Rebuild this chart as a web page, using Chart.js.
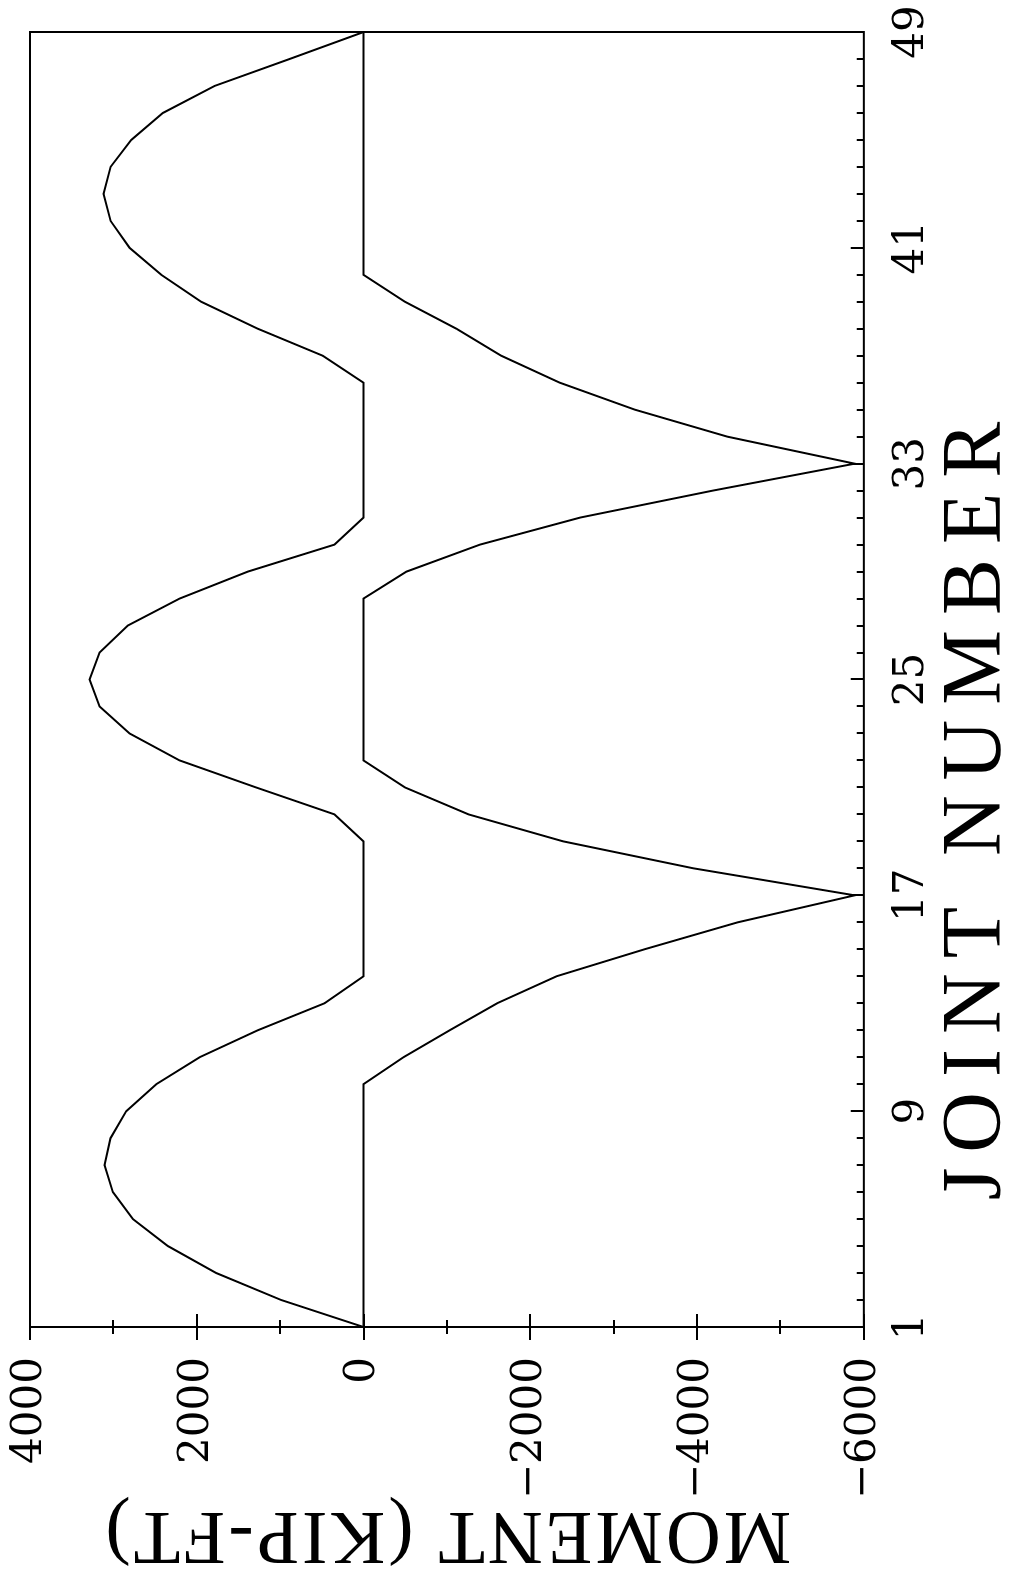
<!DOCTYPE html>
<html>
<head>
<meta charset="utf-8">
<script src="https://cdn.jsdelivr.net/npm/chart.js@4.4.1/dist/chart.umd.min.js"></script>
<style>
  html, body { margin: 0; padding: 0; background: #fff; overflow: hidden; }
  #wrap {
    position: absolute; left: 0; top: 0;
    width: 1575px; height: 1013px;
    transform-origin: 0 0;
    transform: translate(0, 1575px) rotate(-90deg);
  }
</style>
</head>
<body>
<div id="wrap"><canvas id="c" width="1575" height="1013"></canvas></div>
<script>
// Joint numbers (categories)
const joints = [1,2,3,4,5,6,7,8,9,10,11,12,13,14,15,16,17,18,19,20,21,22,23,24,25,
  26,27,28,29,30,31,32,33,34,35,36,37,38,39,40,41,42,43,44,45,46,47,48,49];

// Positive moment envelope (KIP-FT)
const positiveMoment = [0,987,1766,2346,2766,3006,3106,3034,2846,2486,1966,1267,468,0,
  0,0,0,0,0,
  348,1290,2206,2806,3165,3285,3165,2826,2206,1387,348,
  0,0,0,0,0,0,
  488,1267,1946,2426,2806,3034,3118,3034,2786,2406,1787,887,0];

// Negative moment envelope (KIP-FT)
const negativeMoment = [0,0,0,0,0,0,0,0,0,0,
  -480,-1034,-1603,-2314,-3370,-4489,-5890,-3958,-2396,-1259,-497,
  0,
  0,0,0,0,0,0,
  -516,-1397,-2595,-4187,-5890,-4365,-3255,-2355,-1652,-1115,-497,
  0,
  0,0,0,0,0,0,0,0,0];

// Tick labels
const jointTickLabels = [1, 9, 17, 25, 33, 41, 49];
const momentTickLabels = [4000, 2000, 0, -2000, -4000, -6000];

// Wide letter spacing of the plotter-style titles
const titleSpacing = { 'JOINT NUMBER': 15, 'MOMENT (KIP-FT)': 3 };

const letterSpacingPlugin = {
  id: 'letterSpacing',
  beforeDraw(chart) {
    const ctx = chart.ctx;
    if (ctx._lsPatched) return;
    const orig = ctx.fillText;
    ctx.fillText = function(text, x, y, maxWidth) {
      const sp = titleSpacing[text];
      const prev = this.letterSpacing;
      if (sp) this.letterSpacing = sp + 'px';
      if (maxWidth === undefined) orig.call(this, text, x, y);
      else orig.call(this, text, x, y, maxWidth);
      if (sp) this.letterSpacing = prev;
    };
    ctx._lsPatched = true;
  }
};

const frameTicks = {
  id: 'frameTicks',
  afterDraw(chart) {
    const {ctx, chartArea: a, scales} = chart;
    const x = scales.x, y = scales.y;
    ctx.save();
    ctx.strokeStyle = '#000';
    ctx.lineWidth = 2;
    ctx.strokeRect(a.left, a.top, a.right - a.left, a.bottom - a.top);
    ctx.beginPath();
    y.ticks.forEach(t => {
      const py = Math.round(y.getPixelForValue(t.value));
      const len = momentTickLabels.includes(t.value) ? 13 : 7;
      ctx.moveTo(a.left - len, py);
      ctx.lineTo(a.left + len, py);
    });
    x.ticks.forEach((t, i) => {
      const px = Math.round(x.getPixelForTick(i));
      const len = jointTickLabels.includes(joints[i]) ? 13 : 7;
      ctx.moveTo(px, a.bottom);
      ctx.lineTo(px, a.bottom - len);
    });
    ctx.stroke();
    ctx.restore();
  }
};

const tickFont = { family: "'DejaVu Serif', serif", size: 42, lineHeight: 1.2 };

new Chart(document.getElementById('c'), {
  type: 'line',
  data: {
    labels: joints,
    datasets: [
      { label: 'Positive', data: positiveMoment, borderColor: '#000', borderWidth: 2,
        pointRadius: 0, tension: 0, fill: false },
      { label: 'Negative', data: negativeMoment, borderColor: '#000', borderWidth: 2,
        pointRadius: 0, tension: 0, fill: false }
    ]
  },
  options: {
    responsive: false,
    animation: false,
    devicePixelRatio: 1,
    layout: { padding: { left: 0, right: 32, top: 30, bottom: 0 } },
    plugins: {
      legend: { display: false },
      tooltip: { enabled: false },
      title: {
        display: true,
        text: 'JOINT NUMBER',
        position: 'bottom',
        align: 'center',
        color: '#000',
        font: { family: "'Liberation Serif', serif", size: 84, weight: 'normal', lineHeight: 0.74 },
        padding: { top: 0, bottom: 4 }
      }
    },
    scales: {
      x: {
        type: 'category',
        offset: false,
        grid: { display: false, drawTicks: true, tickLength: 23 },
        border: { display: false },
        ticks: {
          autoSkip: false,
          maxRotation: 0,
          minRotation: 0,
          padding: 0,
          color: '#000',
          font: tickFont,
          callback: function(value, index) {
            const j = joints[index];
            return jointTickLabels.includes(j) ? String(j) : '';
          }
        },
        afterFit: s => { s.height = 83; }
      },
      y: {
        type: 'linear',
        min: -6000,
        max: 4000,
        grid: { display: false, drawTicks: true, tickLength: 30 },
        border: { display: false },
        ticks: {
          stepSize: 1000,
          padding: 0,
          color: '#000',
          font: tickFont,
          callback: function(v) {
            if (!momentTickLabels.includes(v)) return '';
            return v < 0 ? '\u2212' + Math.abs(v) : String(v);
          }
        },
        title: {
          display: true,
          text: 'MOMENT (KIP-FT)',
          color: '#000',
          font: { family: "'Liberation Serif', serif", size: 76, weight: 'normal', lineHeight: 1 },
          padding: { top: 4, bottom: 0 }
        },
        afterFit: s => { s.width = 248; }
      }
    }
  },
  plugins: [letterSpacingPlugin, frameTicks]
});
</script>
</body>
</html>
